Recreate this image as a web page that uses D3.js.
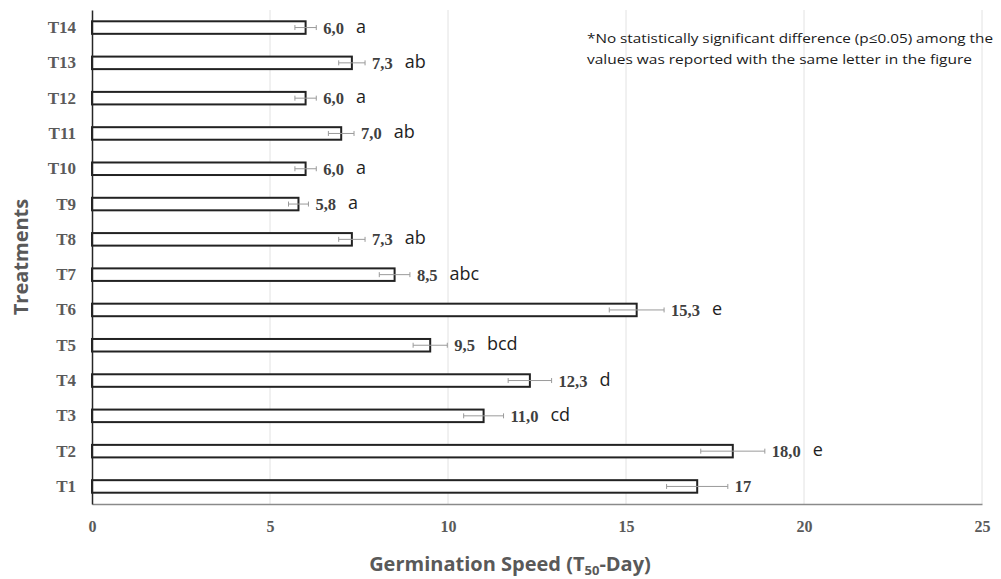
<!DOCTYPE html>
<html>
<head>
<meta charset="utf-8">
<script src="https://cdn.jsdelivr.net/npm/d3@7"></script>
<style>
  body { margin: 0; background: #fff; }
  svg { display: block; }
</style>
</head>
<body>
<script>
// chart data, bottom row first
const treatments = ["T1", "T2", "T3", "T4", "T5", "T6", "T7", "T8", "T9", "T10", "T11", "T12", "T13", "T14"];
const speed = [17, 18.0, 11.0, 12.3, 9.5, 15.3, 8.5, 7.3, 5.8, 6.0, 7.0, 6.0, 7.3, 6.0];
const errors = [0.86, 0.9, 0.56, 0.61, 0.48, 0.77, 0.43, 0.37, 0.28, 0.3, 0.36, 0.3, 0.37, 0.3];
const valueLabels = ["17", "18,0", "11,0", "12,3", "9,5", "15,3", "8,5", "7,3", "5,8", "6,0", "7,0", "6,0", "7,3", "6,0"];
const letters = ["", "e", "cd", "d", "bcd", "e", "abc", "ab", "a", "a", "ab", "a", "ab", "a"];
const xTicks = [0, 5, 10, 15, 20, 25];
const noteLines = [
  "*No statistically significant difference (p\u22640.05) among the",
  "values was reported with the same letter in the figure"
];

let width = 1001;
let height = 579;
let plotLeft = 92, plotRight = 982, plotTop = 10, plotBottom = 504;

let rows = treatments.map((t, i) => ({
  t: t, v: speed[i], e: errors[i], label: valueLabels[i], letter: letters[i]
}));

let svg = d3.select("body").append("svg")
  .attr("width", width)
  .attr("height", height);

let x = d3.scaleLinear().domain([0, 25]).range([plotLeft, plotRight]);
let y = d3.scaleBand()
  .domain(treatments.slice().reverse())
  .range([plotTop, plotBottom])
  .paddingInner(0.645)
  .paddingOuter(0.32);

/* grid */
svg.append("g").selectAll("line")
  .data(xTicks.slice(1))
  .join("line")
  .attr("x1", d => x(d)).attr("x2", d => x(d))
  .attr("y1", plotTop).attr("y2", plotBottom)
  .attr("stroke", "#e2e2e2")
  .attr("stroke-width", 1);

/* x axis */
let gx = svg.append("g")
  .attr("transform", "translate(0," + plotBottom + ")")
  .call(d3.axisBottom(x).tickValues(xTicks).tickSize(0).tickPadding(17).tickFormat(d3.format("d")));
gx.select(".domain").attr("stroke", "#8a8a8a").attr("stroke-width", 1.5);
gx.selectAll("text")
  .attr("font-family", "'Liberation Serif', 'Times New Roman', serif")
  .attr("font-weight", "bold")
  .attr("font-size", 16)
  .attr("fill", "#5a5a5a");

/* bars */
let barG = svg.append("g");
barG.selectAll("rect")
  .data(rows)
  .join("rect")
  .attr("x", x(0))
  .attr("y", d => y(d.t))
  .attr("width", d => x(d.v) - x(0))
  .attr("height", y.bandwidth())
  .attr("fill", "#fff")
  .attr("stroke", "#222")
  .attr("stroke-width", 2);

/* error bars */
let errG = svg.append("g")
  .attr("stroke", "#9a9a9a")
  .attr("stroke-width", 1);
rows.forEach(d => {
  let cy = y(d.t) + y.bandwidth() / 2;
  errG.append("line")
    .attr("x1", x(d.v - d.e)).attr("x2", x(d.v + d.e))
    .attr("y1", cy).attr("y2", cy);
  [d.v - d.e, d.v + d.e].forEach(v => {
    errG.append("line")
      .attr("x1", x(v)).attr("x2", x(v))
      .attr("y1", cy - 2.5).attr("y2", cy + 2.5);
  });
});

/* value labels + letters */
let labG = svg.append("g");
rows.forEach(d => {
  let cy = y(d.t) + y.bandwidth() / 2;
  let num = labG.append("text")
    .attr("x", x(d.v + d.e) + 7)
    .attr("y", cy + 6)
    .attr("font-family", "'Liberation Serif', 'Times New Roman', serif")
    .attr("font-weight", "bold")
    .attr("font-size", 16.5)
    .attr("fill", "#404040")
    .text(d.label);
  let w = num.node().getComputedTextLength();
  if (d.letter) {
    labG.append("text")
      .attr("x", x(d.v + d.e) + 7 + w + 12)
      .attr("y", cy + 5)
      .attr("font-family", "'Open Sans', sans-serif")
      .attr("font-size", 18)
      .attr("fill", "#1e1e1e")
      .text(d.letter);
  }
});

/* y axis (drawn last so its line sits over the bar edges) */
let gy = svg.append("g")
  .attr("transform", "translate(" + plotLeft + ",0)")
  .call(d3.axisLeft(y).tickSize(0).tickPadding(16));
gy.select(".domain").attr("stroke", "#262626").attr("stroke-width", 1.5);
gy.selectAll("text")
  .attr("font-family", "'Liberation Serif', 'Times New Roman', serif")
  .attr("font-weight", "bold")
  .attr("font-size", 17)
  .attr("fill", "#5a5a5a");

/* axis titles */
let xt = svg.append("text")
  .attr("x", 510)
  .attr("y", 571)
  .attr("text-anchor", "middle")
  .attr("font-family", "'Open Sans', sans-serif")
  .attr("font-weight", "bold")
  .attr("font-size", 20)
  .attr("fill", "#595959");
xt.append("tspan").text("Germination Speed (T");
xt.append("tspan").attr("font-size", 13).attr("dy", 4).text("50");
xt.append("tspan").attr("dy", -4).text("-Day)");

svg.append("text")
  .attr("transform", "translate(28," + ((plotTop + plotBottom) / 2) + ") rotate(-90)")
  .attr("text-anchor", "middle")
  .attr("font-family", "'Open Sans', sans-serif")
  .attr("font-weight", "bold")
  .attr("font-size", 20)
  .attr("fill", "#595959")
  .text("Treatments");

/* note */
svg.append("g").selectAll("text")
  .data(noteLines)
  .join("text")
  .attr("x", 587)
  .attr("y", (d, i) => 43 + i * 20.5)
  .attr("font-family", "'Open Sans', sans-serif")
  .attr("font-size", 13.5)
  .attr("fill", "#1a1a1a")
  .attr("textLength", (d, i) => i === 0 ? 406 : 385)
  .attr("lengthAdjust", "spacingAndGlyphs")
  .text(d => d);
</script>
</body>
</html>
